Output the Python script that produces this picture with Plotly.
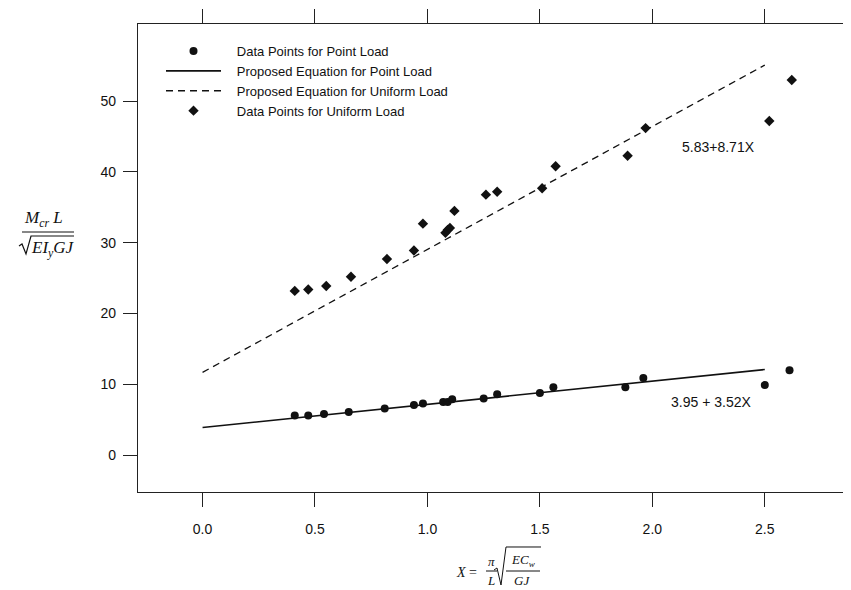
import plotly.graph_objects as go

# ---- data ----
point_x = [0.41, 0.47, 0.54, 0.65, 0.81, 0.94, 0.98, 1.07, 1.09, 1.11, 1.25, 1.31, 1.50, 1.56, 1.88, 1.96, 2.50, 2.61]
point_y = [5.6, 5.6, 5.8, 6.1, 6.6, 7.1, 7.3, 7.5, 7.5, 7.9, 8.0, 8.6, 8.8, 9.6, 9.6, 10.9, 9.9, 12.0]

uniform_x = [0.41, 0.47, 0.55, 0.66, 0.82, 0.94, 0.98, 1.08, 1.09, 1.10, 1.12, 1.26, 1.31, 1.51, 1.57, 1.89, 1.97, 2.52, 2.62]
uniform_y = [23.2, 23.4, 23.9, 25.2, 27.7, 28.9, 32.7, 31.4, 31.8, 32.1, 34.5, 36.8, 37.2, 37.7, 40.8, 42.3, 46.2, 47.2, 53.0]

point_eq_x = [0.0, 2.5]
point_eq_y = [3.9, 12.1]
uniform_eq_x = [0.0, 2.5]
uniform_eq_y = [11.7, 55.1]

x_ticks = [0.0, 0.5, 1.0, 1.5, 2.0, 2.5]
x_ticktext = ["0.0", "0.5", "1.0", "1.5", "2.0", "2.5"]
y_ticks = [0, 10, 20, 30, 40, 50]

INK = "#111111"
SANS = "Liberation Sans, Arial, sans-serif"
SERIF = "Liberation Serif, Times New Roman, serif"

# page has an 8px body margin; compensate so the figure fills the window
OFF = 8
W_, H_ = 851, 590
# plot-area geometry (window pixels)
L, R, T, B = 138, 848, 24, 492


def px(x):
    return (x - L) / (R - L)


def py(y):
    return (B - y) / (B - T)


fig = go.Figure()
pad = "\u00a0\u00a0\u00a0"
fig.add_trace(go.Scatter(x=point_x, y=point_y, mode="markers",
                         name=pad + "Data Points for Point Load",
                         marker=dict(symbol="circle", size=8, color=INK)))
fig.add_trace(go.Scatter(x=point_eq_x, y=point_eq_y, mode="lines",
                         name=pad + "Proposed Equation for Point Load",
                         line=dict(color=INK, width=1.6)))
fig.add_trace(go.Scatter(x=uniform_eq_x, y=uniform_eq_y, mode="lines",
                         name=pad + "Proposed Equation for Uniform Load",
                         line=dict(color=INK, width=1.3, dash="7px,5px")))
fig.add_trace(go.Scatter(x=uniform_x, y=uniform_y, mode="markers",
                         name=pad + "Data Points for Uniform Load",
                         marker=dict(symbol="diamond", size=8, color=INK)))

shapes = []
annotations = []


def seg(x0, y0, x1, y1, w=1.2):
    shapes.append(dict(type="line", xref="paper", yref="paper",
                       x0=px(x0), y0=py(y0), x1=px(x1), y1=py(y1),
                       line=dict(color=INK, width=w)))


def path(pts, w=1.2):
    d = "M " + " L ".join(f"{px(a):.5f},{py(b):.5f}" for a, b in pts)
    shapes.append(dict(type="path", xref="paper", yref="paper", path=d,
                       line=dict(color=INK, width=w)))


def txt(x, y, s, size, family=SERIF):
    annotations.append(dict(xref="paper", yref="paper", x=px(x), y=py(y),
                            text=s, showarrow=False, xanchor="center", yanchor="middle",
                            font=dict(family=family, size=size, color=INK)))


# y-axis title: M_cr L / sqrt(E I_y G J)
txt(43, 219, "<i>M</i><sub><i>cr</i></sub> <i>L</i>", 17)
seg(22, 232, 74, 232)
path([(19, 246), (22, 244), (26, 254), (31, 236), (74, 236)])
txt(53, 249, "<i>EI</i><sub><i>y</i></sub><i>GJ</i>", 17)

# x-axis title: X = pi/L sqrt(EC_w / GJ)
txt(466, 572, "<i>X</i> =", 14)
txt(491, 561, "<i>π</i>", 13)
txt(491, 580, "<i>L</i>", 13)
seg(486, 571, 497, 571, 1.0)
path([(494, 570), (497, 568), (501, 585), (506, 547), (541, 547)], 1.0)
txt(523, 560, "<i>EC</i><sub><i>w</i></sub>", 13)
txt(522, 580, "<i>GJ</i>", 13)
seg(506, 571, 540, 571, 1.0)

# equation labels in data coordinates
annotations.append(dict(x=2.293, y=43.5, xref="x", yref="y", text="5.83+8.71X",
                        showarrow=False, font=dict(family=SANS, size=14, color=INK)))
annotations.append(dict(x=2.262, y=7.5, xref="x", yref="y", text="3.95 + 3.52X",
                        showarrow=False, font=dict(family=SANS, size=14, color=INK)))

axis_common = dict(showline=True, mirror="ticks", linecolor="#222222", linewidth=1.3,
                   ticks="outside", ticklen=14, tickcolor="#222222", tickwidth=1.2,
                   showgrid=False, zeroline=False,
                   tickfont=dict(family=SANS, size=14, color=INK))

fig.update_layout(
    width=W_ - OFF, height=H_ - OFF,
    margin=dict(l=L - OFF, r=W_ - R, t=T - OFF, b=H_ - B, autoexpand=False),
    paper_bgcolor="white", plot_bgcolor="white",
    font=dict(family=SANS, size=14, color=INK),
    xaxis=dict(range=[-0.287, 2.87], tickvals=x_ticks, ticktext=x_ticktext,
               ticklabelstandoff=10, **axis_common),
    yaxis=dict(range=[-5.2, 60.9], tickvals=y_ticks, ticklabelstandoff=4, **axis_common),
    showlegend=True,
    legend=dict(x=px(161), y=py(36), xanchor="left", yanchor="top",
                bgcolor="rgba(0,0,0,0)", borderwidth=0, itemwidth=55,
                font=dict(family=SANS, size=13, color=INK), tracegroupgap=0),
    shapes=shapes, annotations=annotations,
)

fig.write_html("out.html")
